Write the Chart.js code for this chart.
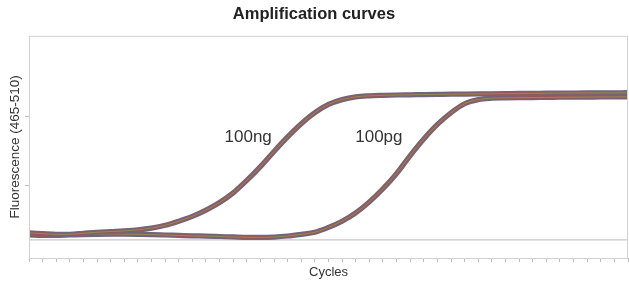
<!DOCTYPE html>
<html>
<head>
<meta charset="utf-8">
<script src="https://cdn.jsdelivr.net/npm/chart.js@4/dist/chart.umd.min.js"></script>
<style>
  html, body { margin: 0; padding: 0; background: #fff; }
  #wrap { width: 629px; height: 283px; }
</style>
</head>
<body>
<div id="wrap"><canvas id="ampChart"></canvas></div>
<script>
// Amplification curves //
const cycles = [0,1,2,3,4,5,6,7,8,9,10,11,12,13,14,15,16,17,18,19,20,21,22,23,24,25,26,27,28,29,30,31,32,33,34,35,36,37,38,39,40,41,42,43,44];

const ng100 = [3.2,3.1,3.0,3.0,3.15,3.3,3.4,3.5,3.65,3.9,4.3,4.9,5.6,6.5,7.6,9.0,10.8,12.8,15.0,17.1,19.0,20.6,21.8,22.5,22.9,23.05,23.12,23.17,23.2,23.23,23.26,23.29,23.31,23.33,23.35,23.37,23.39,23.41,23.43,23.45,23.46,23.47,23.48,23.49,23.5];

const pg100 = [2.9,2.85,2.85,2.9,2.96,3.0,3.02,3.02,3.0,2.96,2.9,2.84,2.78,2.74,2.68,2.62,2.56,2.55,2.6,2.75,3.0,3.3,4.0,4.9,6.1,7.7,9.6,11.8,14.4,16.8,18.9,20.6,21.9,22.5,22.7,22.75,22.78,22.8,22.82,22.84,22.86,22.87,22.88,22.89,22.9];

const threshold = 2.2;
const yTickValues = [10, 20];
const curveLabels = [
  { text: '100ng', cycle: 16.1, value: 17.0 },
  { text: '100pg', cycle: 25.7, value: 17.0 }
];

// thin stripes first so they sit on top of the wide one (Chart.js paints index 0 last)
const stripes = [
  { color: '#8f9a62', width: 0.8 },
  { color: '#9a5650', width: 2.6 },
  { color: '#6f6680', width: 5.2 }
];

function makeDatasets(values) {
  return stripes.map(s => ({
    data: values,
    borderColor: s.color,
    borderWidth: s.width,
    pointRadius: 0,
    cubicInterpolationMode: 'monotone',
    fill: false
  }));
}

const boxPlugin = {
  id: 'box',
  afterDraw(chart) {
    const { ctx, chartArea: a, scales } = chart;
    ctx.save();
    ctx.strokeStyle = '#d2d2d2';
    ctx.lineWidth = 1;
    ctx.strokeRect(a.left + 0.5, a.top + 0.5, a.right - a.left - 1, a.bottom - a.top);
    ctx.fillStyle = '#333';
    ctx.font = '17px "Liberation Sans", Arial, sans-serif';
    ctx.textAlign = 'center';
    ctx.textBaseline = 'middle';
    curveLabels.forEach(l => {
      ctx.fillText(l.text, scales.x.getPixelForValue(l.cycle), scales.y.getPixelForValue(l.value));
    });
    ctx.restore();
  }
};

const thresholdData = [{ x: 0, y: threshold }, { x: 44, y: threshold }];

function renderChart() {
  const ctx = document.getElementById('ampChart').getContext('2d');
  new Chart(ctx, {
    type: 'line',
    data: {
      labels: cycles,
      datasets: [
        ...makeDatasets(ng100),
        ...makeDatasets(pg100),
        { data: thresholdData, borderColor: '#c9c9c9', borderWidth: 1.2, pointRadius: 0 }
      ]
    },
    options: {
      responsive: true,
      maintainAspectRatio: false,
      animation: false,
      layout: { padding: { left: 0, right: 1, top: 0, bottom: 0 } },
      plugins: {
        legend: { display: false },
        tooltip: { enabled: false },
        title: {
          display: true,
          text: 'Amplification curves',
          color: '#222',
          font: { family: '"Liberation Sans", Arial, sans-serif', size: 16.5, weight: 'bold' },
          padding: { top: 5, bottom: 11 }
        }
      },
      scales: {
        x: {
          type: 'linear',
          min: 0,
          max: 44,
          afterBuildTicks: s => { s.ticks = cycles.map(c => ({ value: c })); },
          afterFit: s => { s.height = 25; },
          ticks: { callback: () => '', padding: 0 },
          grid: { drawOnChartArea: false, drawTicks: true, tickLength: 4, color: '#bdbdbd' },
          border: { display: false },
          title: {
            display: true,
            text: 'Cycles',
            color: '#333',
            font: { family: '"Liberation Sans", Arial, sans-serif', size: 13 },
            padding: { top: 3, bottom: 3 }
          }
        },
        y: {
          min: -0.43,
          max: 31.74,
          afterBuildTicks: s => { s.ticks = yTickValues.map(v => ({ value: v })); },
          afterFit: s => { s.width = 29; },
          ticks: { callback: () => '', padding: 0 },
          grid: { drawOnChartArea: false, drawTicks: true, tickLength: 4, color: '#bdbdbd' },
          border: { display: false },
          title: {
            display: true,
            text: 'Fluorescence (465-510)',
            color: '#333',
            font: { family: '"Liberation Sans", Arial, sans-serif', size: 13.5 },
            padding: { top: 7, bottom: 0 }
          }
        }
      }
    },
    plugins: [boxPlugin]
  });
}

document.addEventListener('DOMContentLoaded', renderChart);
</script>
</body>
</html>
